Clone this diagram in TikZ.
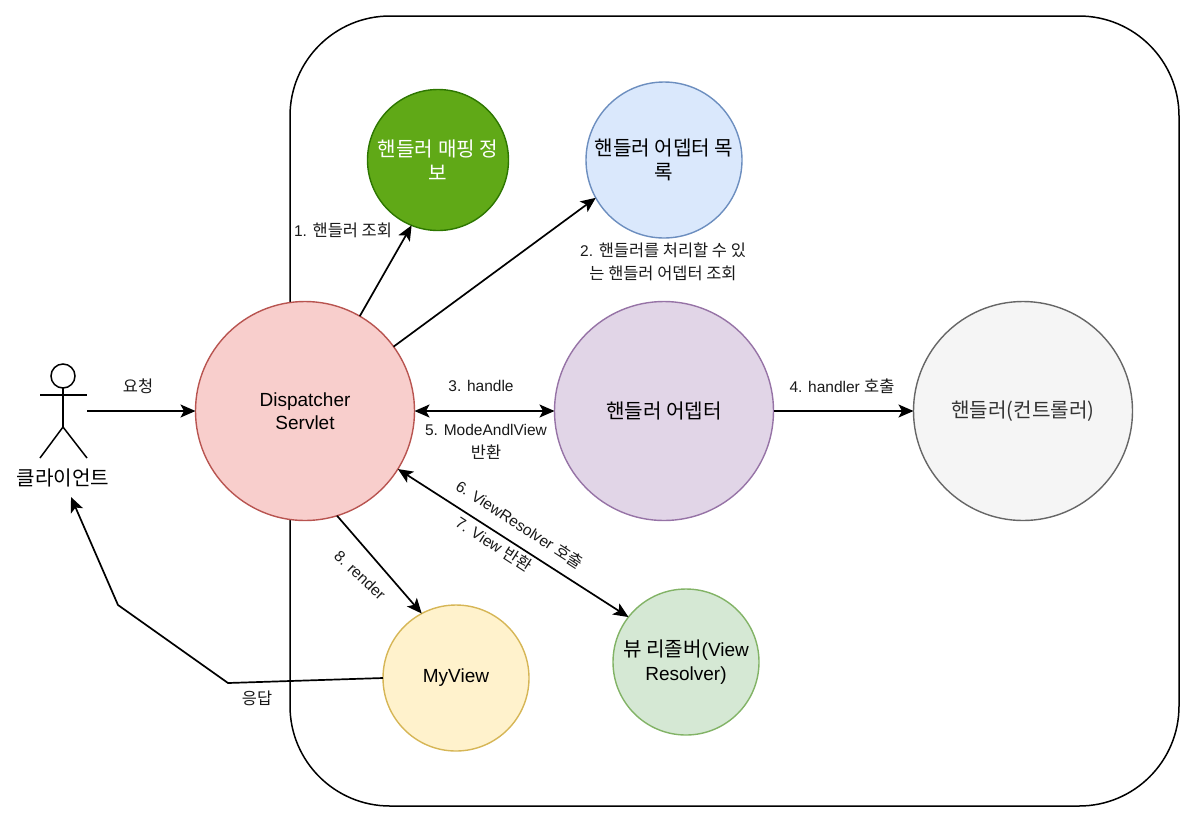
\documentclass[tikz,border=0pt]{standalone}
\usepackage{fontspec}
\setmainfont{Liberation Sans}
\newfontfamily\cjk[Scale=1.06]{Noto Sans CJK KR}
\newcommand{\ko}[1]{{\cjk #1}}
\usetikzlibrary{arrows.meta}
\tikzset{
  x=1pt,y=-1pt,
  tip/.tip={Stealth[length=15pt,width=13pt,inset=3.5pt]},
  conn/.style={line width=1.7pt,black,-tip},
  dconn/.style={line width=1.7pt,black,tip-tip},
  circ/.style={circle,draw,line width=1.4pt,inner sep=0pt,outer sep=0pt,align=center,font=\fontsize{19}{23.5}\selectfont},
  big/.style={circ,minimum size=219pt},
  lab/.style={font=\fontsize{15.5}{23}\selectfont,align=center,inner sep=0pt,text=black!90},
  stick/.style={line width=1.5pt,black}
}
\begin{document}
\begin{tikzpicture}
\useasboundingbox (0,0) rectangle (1196,823);
\node[draw,line width=1.5pt,rounded corners=100pt,minimum width=889pt,minimum height=790pt,inner sep=0pt,outer sep=0pt] (frame) at (734.5,411) {};

\node[big,fill={rgb,255:red,248;green,206;blue,204},draw={rgb,255:red,184;green,84;blue,80}] (disp) at (305,411) {Dispatcher\\Servlet};
\node[circ,minimum size=141pt,fill={rgb,255:red,96;green,169;blue,23},draw={rgb,255:red,45;green,118;blue,0},text=white] (map) at (438,160) {\ko{핸들러 매핑 정}\\\ko{보}};
\node[circ,minimum size=156pt,fill={rgb,255:red,218;green,232;blue,252},draw={rgb,255:red,108;green,142;blue,191}] (alist) at (664,160) {\ko{핸들러 어뎁터 목}\\\ko{록}};
\node[big,fill={rgb,255:red,225;green,213;blue,231},draw={rgb,255:red,150;green,115;blue,166}] (adapter) at (664,411) {\ko{핸들러 어뎁터}};
\node[big,fill={rgb,255:red,245;green,245;blue,245},draw={rgb,255:red,102;green,102;blue,102},text={rgb,255:red,51;green,51;blue,51}] (handler) at (1023,411) {\ko{핸들러(컨트롤러)}};
\node[circ,minimum size=146pt,fill={rgb,255:red,213;green,232;blue,212},draw={rgb,255:red,130;green,179;blue,102}] (resolver) at (686,662) {\ko{뷰 리졸버}(View\\Resolver)};
\node[circ,minimum size=146pt,fill={rgb,255:red,255;green,242;blue,204},draw={rgb,255:red,214;green,182;blue,86}] (myview) at (456,678) {MyView};

% actor
\node[circle,draw,line width=1.5pt,minimum size=24pt,inner sep=0pt,outer sep=0pt] (head) at (63,376) {};
\coordinate (hip) at (63,427);
\coordinate (armL) at (40,395);
\coordinate (armR) at (87,395);
\coordinate (legL) at (40,458);
\coordinate (legR) at (87,458);
\draw[stick] (head.south) -- (hip);
\draw[stick] (armL) -- (armR);
\draw[stick] (legL) -- (hip) -- (legR);
\node[font=\fontsize{19}{24}\selectfont,inner sep=0pt] (actorlabel) at (63,478) {\ko{클라이언트}};
\coordinate (actorout) at (87,411);
\coordinate (actorin) at (71,497);
\coordinate (bend1) at (228,683);
\coordinate (bend2) at (118,605);

% connectors
\draw[conn] (actorout) -- (disp.west);
\draw[conn] (disp.60.6) -- (map.248);
\draw[conn] (disp.36) -- (alist.209);
\draw[dconn] (disp.east) -- (adapter.west);
\draw[conn] (adapter.east) -- (handler.west);
\draw[dconn] (disp.-32.5) -- (resolver.142);
\draw[conn] (disp.-73.8) -- (myview.118.6);
\draw[conn] (myview.west) -- (bend1) -- (bend2) -- (actorin);

% labels
\node[lab] (l0) at (138,386) {\ko{요청}};
\node[lab] (l1) at (343,230) {1. \ko{핸들러 조회}};
\node[lab] (l2) at (663,262) {2. \ko{핸들러를 처리할 수 있}\\\ko{는 핸들러 어뎁터 조회}};
\node[lab] (l3) at (481,386) {3. handle};
\node[lab] (l4) at (842,386) {4. handler \ko{호출}};
\node[lab] (l5) at (486,442) {5. ModeAndlView\\\ko{반환}};
\node[lab,rotate=-33] (l6) at (520,524) {6. ViewResolver \ko{호출}};
\node[lab,rotate=-33] (l7) at (494,544) {7. View \ko{반환}};
\node[lab,rotate=-43] (l8) at (360,575) {8. render};
\node[lab] (l9) at (257,698) {\ko{응답}};
\end{tikzpicture}
\end{document}
